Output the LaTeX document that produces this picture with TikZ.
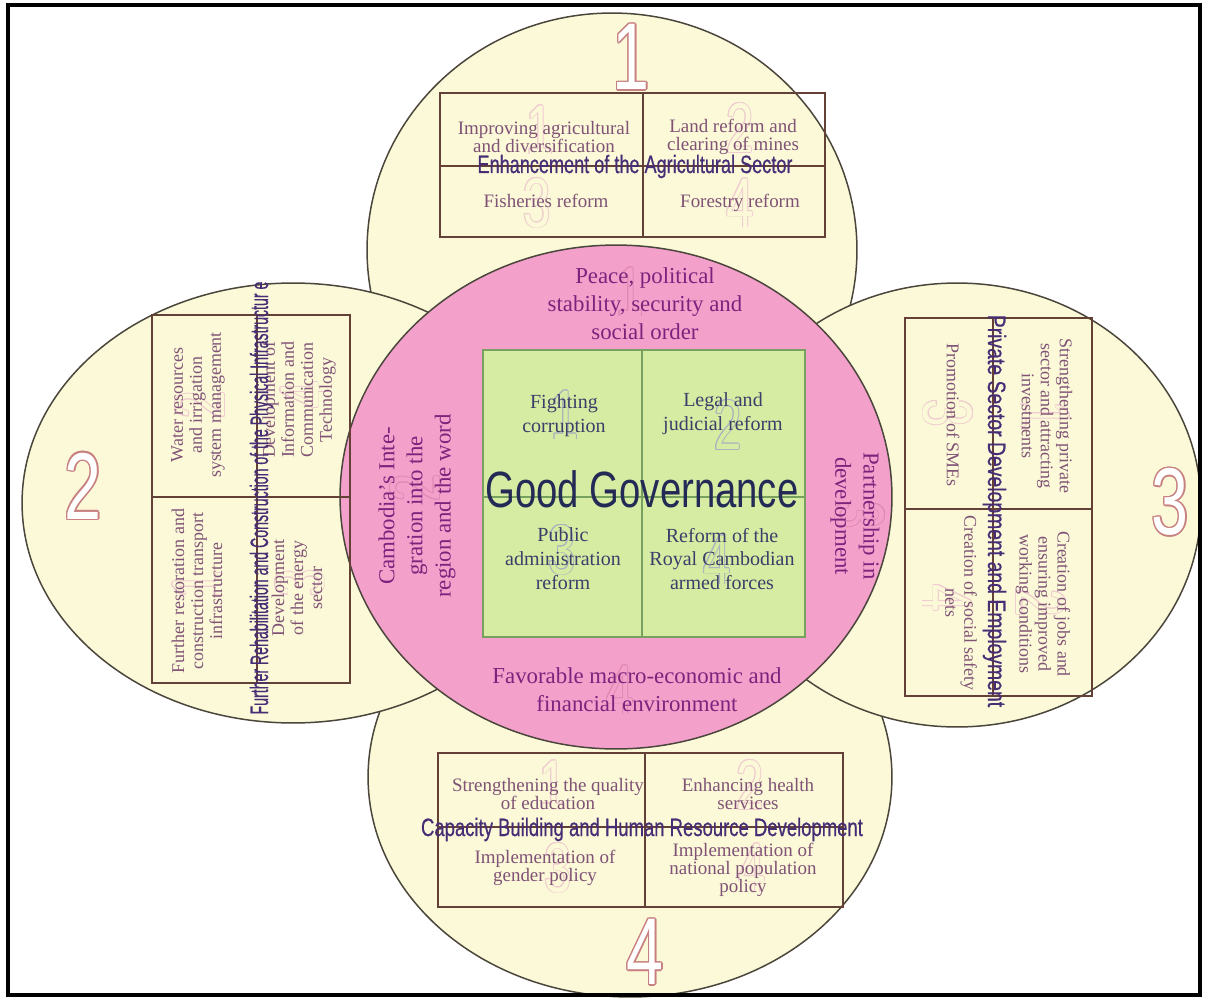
\documentclass[tikz,border=0pt]{standalone}
\usepackage{fontspec}
\usepackage{graphicx}
\setmainfont{Liberation Serif}
\newfontfamily\headsans{Liberation Sans}
\newfontfamily\titlesans[FakeBold=0.5]{Liberation Sans}
\usetikzlibrary{calc}

\definecolor{cream}{RGB}{251,249,216}
\definecolor{ringline}{RGB}{75,70,60}
\definecolor{corepink}{RGB}{243,160,203}
\definecolor{govgreen}{RGB}{214,236,163}
\definecolor{govline}{RGB}{120,160,95}
\definecolor{gridline}{RGB}{100,65,55}
\definecolor{cellink}{RGB}{128,82,118}
\definecolor{pinkink}{RGB}{125,35,125}
\definecolor{reformink}{RGB}{60,62,105}
\definecolor{titleink}{RGB}{70,45,118}
\definecolor{govink}{RGB}{35,42,85}
\definecolor{digitedge}{RGB}{200,128,128}
\definecolor{ghostedge}{RGB}{240,205,208}
\definecolor{ghostgov}{RGB}{170,180,190}
\definecolor{ghostpink}{RGB}{226,138,182}

\newcommand{\slim}[1]{\scalebox{0.7}[1]{#1}}
% #1 place, #2 style, #3 edge, #4 fill, #5 offset, #6 digit
\newcommand{\hollowdigit}[6]{%
  \foreach \k in {0,30,...,330}
    \node[#2,text=#3,inner sep=0pt] at ($(#1)+(\k:#5)$) {\slim{#6}};
  \node[#2,text=#4,inner sep=0pt] at (#1) {\slim{#6}};}

\begin{document}
\begin{tikzpicture}[x=0.02cm,y=-0.02cm,
    ring/.style={draw=ringline,line width=0.85pt,fill=cream},
    tablebox/.style={draw=gridline,line width=1.1pt},
    celltext/.style={text=cellink,align=center,inner sep=0pt,
      font=\fontsize{10.8pt}{10.2pt}\selectfont},
    sidetext/.style={font=\fontsize{10.2pt}{10.8pt}\selectfont},
    sectortitle/.style={text=titleink,inner sep=0pt,anchor=base,
      font=\titlesans\fontsize{14.3pt}{14.3pt}\selectfont},
    pinktext/.style={text=pinkink,align=center,inner sep=0pt,
      font=\fontsize{13pt}{16pt}\selectfont},
    reformtext/.style={text=reformink,align=center,inner sep=0pt,
      font=\fontsize{11.4pt}{13.6pt}\selectfont},
    bigdigit/.style={font=\headsans\fontsize{54pt}{54pt}\selectfont},
    ghost/.style={font=\headsans\fontsize{40pt}{40pt}\selectfont},
    ghostup/.style={ghost,rotate=90},
    ghostdown/.style={ghost,rotate=-90}]

  \fill[white] (0,0) rectangle (1206,1000);
  \useasboundingbox (0,0) rectangle (1206,1000);

  \draw[ring] (612,250) ellipse [x radius=4.9cm, y radius=4.74cm];
  \draw[ring] (630,777) ellipse [x radius=5.24cm, y radius=4.4cm];
  \draw[ring] (293,503) ellipse [x radius=5.42cm, y radius=4.4cm];
  \draw[ring] (957,505) ellipse [x radius=4.88cm, y radius=4.44cm];

  \draw[ring,fill=corepink] (616,497) ellipse [x radius=5.52cm, y radius=5.04cm];
  \draw[draw=govline,line width=0.6pt,fill=govgreen] (483,350) rectangle (805,637);
  \draw[draw=govline,line width=0.6pt] (642,350) -- (642,637) (483,497) -- (805,497);

  \draw[tablebox] (440,93) rectangle (825,237) (643,93) -- (643,237) (440,166) -- (825,166);
  \draw[tablebox] (152,315) rectangle (350,683) (152,497) -- (350,497) (257,315) -- (257,683);
  \draw[tablebox] (905,318) rectangle (1092,696) (905,509) -- (1092,509) (993,318) -- (993,696);
  \draw[tablebox] (438,753) rectangle (843,907) (645,753) -- (645,907) (438,827) -- (843,827);

  \hollowdigit{540,130}{ghost}{ghostedge}{cream}{0.7}{1}
  \hollowdigit{740,128}{ghost}{ghostedge}{cream}{0.7}{2}
  \hollowdigit{537,203}{ghost}{ghostedge}{cream}{0.7}{3}
  \hollowdigit{740,203}{ghost}{ghostedge}{cream}{0.7}{4}
  \hollowdigit{197,585}{ghostup}{ghostedge}{cream}{0.7}{1}
  \hollowdigit{200,405}{ghostup}{ghostedge}{cream}{0.7}{2}
  \hollowdigit{300,583}{ghostup}{ghostedge}{cream}{0.7}{3}
  \hollowdigit{305,395}{ghostup}{ghostedge}{cream}{0.7}{4}
  \hollowdigit{1045,415}{ghostdown}{ghostedge}{cream}{0.7}{1}
  \hollowdigit{1041,603}{ghostdown}{ghostedge}{cream}{0.7}{2}
  \hollowdigit{948,413}{ghostdown}{ghostedge}{cream}{0.7}{3}
  \hollowdigit{947,598}{ghostdown}{ghostedge}{cream}{0.7}{4}
  \hollowdigit{553,785}{ghost}{ghostedge}{cream}{0.7}{1}
  \hollowdigit{750,785}{ghost}{ghostedge}{cream}{0.7}{2}
  \hollowdigit{558,868}{ghost}{ghostedge}{cream}{0.7}{3}
  \hollowdigit{752,868}{ghost}{ghostedge}{cream}{0.7}{4}
  \hollowdigit{565,415}{ghost}{ghostgov}{govgreen}{0.7}{1}
  \hollowdigit{728,425}{ghost}{ghostgov}{govgreen}{0.7}{2}
  \hollowdigit{562,550}{ghost}{ghostgov}{govgreen}{0.7}{3}
  \hollowdigit{717,560}{ghost}{ghostgov}{govgreen}{0.7}{4}
  \hollowdigit{630,292}{ghost}{ghostpink}{corepink}{0.7}{1}
  \hollowdigit{415,488}{ghostup}{ghostpink}{corepink}{0.7}{2}
  \hollowdigit{860,515}{ghostdown}{ghostpink}{corepink}{0.7}{3}
  \hollowdigit{620,690}{ghost}{ghostpink}{corepink}{0.7}{4}

  \hollowdigit{631,57}{bigdigit}{digitedge}{white}{1.5}{1}
  \hollowdigit{83,486}{bigdigit}{digitedge}{white}{1.5}{2}
  \hollowdigit{1170,502}{bigdigit}{digitedge}{white}{1.5}{3}
  \hollowdigit{645,952}{bigdigit}{digitedge}{white}{1.5}{4}

  \node[celltext] (agri1) at (544,137) {Improving agricultural\\and diversification};
  \node[celltext] (agri2) at (733,137) {Land reform and\\clearing of mines};
  \node[celltext] (agri3) at (546,201) {Fisheries reform};
  \node[celltext] (agri4) at (740,203) {Forestry reform};
  \node[sectortitle] (agri) at (635,173)
    {\resizebox{6.3cm}{\height}{Enhancement of the Agricultural Sector}};

  \node[celltext,sidetext,rotate=90] (infra1) at (197,591)
    {Further restoration and\\construction transport\\infrastructure};
  \node[celltext,sidetext,rotate=90] (infra2) at (198,405)
    {Water resources\\and irrigation\\system management};
  \node[celltext,sidetext,rotate=90] (infra3) at (297,588)
    {Development\\of the energy\\sector};
  \node[celltext,sidetext,rotate=90] (infra4) at (299,400)
    {Development of\\Information and\\Communication\\Technology};
  \node[sectortitle,rotate=90] (infra) at (268,498)
    {\resizebox{8.66cm}{\height}{Further Rehabilitation and Construction of the Physical Infrastructur e}};

  \node[celltext,sidetext,rotate=-90] (priv1) at (1047,416)
    {Strengthening private\\sector and attracting\\investments};
  \node[celltext,sidetext,rotate=-90] (priv2) at (1043,604)
    {Creation of jobs and\\ensuring improved\\working conditions};
  \node[celltext,sidetext,rotate=-90] (priv3) at (953,415) {Promotion of SMEs};
  \node[celltext,sidetext,rotate=-90] (priv4) at (961,603)
    {Creation of social safety\\nets};
  \node[sectortitle,rotate=-90] (priv) at (988,511)
    {\resizebox{7.85cm}{\height}{Private Sector Development and Employment}};

  \node[celltext] (hrd1) at (548,794) {Strengthening the quality\\of education};
  \node[celltext] (hrd2) at (748,794) {Enhancing health\\services};
  \node[celltext] (hrd3) at (545,868) {Implementation of\\gender policy};
  \node[celltext] (hrd4) at (743,870) {Implementation of\\national population\\policy};
  \node[sectortitle] (hrd) at (642,836)
    {\resizebox{8.84cm}{\height}{Capacity Building and Human Resource Development}};

  \node[pinktext] (peace) at (645,304) {Peace, political\\stability, security and\\social order};
  \node[pinktext,rotate=90] (region) at (417,506)
    {Cambodia's Inte-\\gration into the\\region and the word};
  \node[pinktext,rotate=-90] (partner) at (855,516) {Partnership in\\development};
  \node[pinktext] (macro) at (637,690) {Favorable macro-economic and\\financial environment};

  \node[reformtext] (gov1) at (564,416) {Fighting\\corruption};
  \node[reformtext] (gov2) at (723,414) {Legal and\\judicial reform};
  \node[reformtext] (gov3) at (563,559) {Public\\administration\\reform};
  \node[reformtext] (gov4) at (722,559) {Reform of the\\Royal Cambodian\\armed forces};
  \node[anchor=base,text=govink,inner sep=0pt,font=\headsans\fontsize{29pt}{29pt}\selectfont]
    (goodgov) at (642,507) {\resizebox{6.26cm}{\height}{Good Governance}};

  \draw[line width=2.2pt] (8,5) rectangle (1200,995);
\end{tikzpicture}
\end{document}
